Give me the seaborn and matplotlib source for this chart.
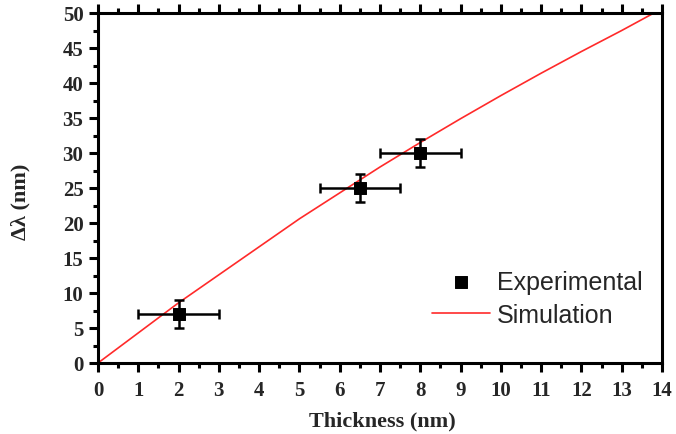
import matplotlib
matplotlib.use("Agg")
import matplotlib.pyplot as plt
import seaborn as sns
import pandas as pd
from matplotlib.ticker import MultipleLocator

# Data
exp_thickness = [2.0, 6.5, 8.0]
exp_shift = [7.0, 25.0, 30.0]
exp_xerr = [1.0, 1.0, 1.0]
exp_yerr = [2.0, 2.0, 2.0]

sim_thickness = [0, 1, 2, 3, 4, 5, 6, 7, 8, 9, 10, 11, 12, 13, 13.8]
sim_shift = [0, 4.3, 8.6, 12.6, 16.6, 20.6, 24.3, 28.0, 31.5, 34.9, 38.2, 41.4, 44.5, 47.5, 50.0]

sns.set_theme(style="white")
plt.rcParams['font.family'] = ['Liberation Serif', 'DejaVu Serif']

fig = plt.figure(figsize=(6.76, 4.35), dpi=100)
ax = fig.add_axes([98/676, 71/435, (662-98)/676, (364-14)/435])

sim_df = pd.DataFrame({"x": sim_thickness, "y": sim_shift})
exp_df = pd.DataFrame({"x": exp_thickness, "y": exp_shift})

sns.lineplot(data=sim_df, x="x", y="y", ax=ax, color="#ff2a2a", linewidth=1.2,
             label="Simulation", zorder=2)
ax.errorbar(exp_thickness, exp_shift, xerr=exp_xerr, yerr=exp_yerr, fmt="none",
            ecolor="black", elinewidth=1.8, capsize=3.8, capthick=1.8, zorder=3)
sns.scatterplot(data=exp_df, x="x", y="y", ax=ax, marker="s", s=75, color="black",
                edgecolor="black", label="Experimental", zorder=4)

ax.set_xlim(0, 14)
ax.set_ylim(0, 50)
ax.xaxis.set_major_locator(MultipleLocator(1))
ax.xaxis.set_minor_locator(MultipleLocator(0.5))
ax.yaxis.set_major_locator(MultipleLocator(5))
ax.yaxis.set_minor_locator(MultipleLocator(2.5))

for s in ax.spines.values():
    s.set_linewidth(2.2)
    s.set_color("black")

ax.tick_params(which="major", direction="out", length=6.5, width=2.2, color="black",
               top=True, bottom=True, left=True, right=False, labelsize=15)
ax.tick_params(which="minor", direction="out", length=3.5, width=2.2, color="black",
               top=True, bottom=True, left=True, right=False)
ax.tick_params(axis="x", which="major", pad=6)
ax.tick_params(axis="y", which="major", pad=4)
for lab in ax.get_xticklabels() + ax.get_yticklabels():
    lab.set_fontweight("bold")

ax.set_xlabel("Thickness (nm)", fontsize=16, fontweight="bold")
ax.set_ylabel("Δλ (nm)", fontsize=16, fontweight="bold")
ax.xaxis.set_label_coords(0.505, -0.135)
ax.yaxis.set_label_coords(-0.12, 0.463)

handles, labels = ax.get_legend_handles_labels()
order = [labels.index("Experimental"), labels.index("Simulation")]
leg = ax.legend([handles[i] for i in order], [labels[i] for i in order],
                loc="upper left", bbox_to_anchor=(432/676, 1 - 271/435),
                bbox_transform=fig.transFigure, frameon=False,
                borderpad=0, borderaxespad=0,
                prop={"family": "Liberation Sans", "size": 18},
                handlelength=2.3, handletextpad=0.28, labelspacing=0.35)

fig.savefig("out.png", dpi=100)
